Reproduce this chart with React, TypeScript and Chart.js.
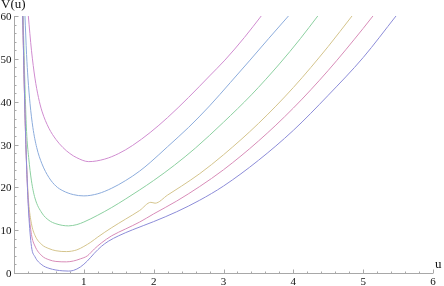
import React, { useEffect, useRef } from 'react';
import { Chart, registerables } from 'chart.js';
Chart.register(...registerables);

const xTickLabels = [1, 2, 3, 4, 5, 6];
const yTickLabels = [0, 10, 20, 30, 40, 50, 60];

const u1 = [0.125, 0.15, 0.17, 0.19, 0.21, 0.25, 0.3, 0.4, 0.5, 0.6, 0.7, 0.78, 0.85, 0.95, 1.05, 1.15, 1.25, 1.35, 1.5, 1.7, 2.0, 2.33, 2.66, 3.0, 3.5, 4.0, 4.5, 5.0, 5.47];
const v1 = [60, 42, 30, 21, 14, 6.2, 3.8, 1.9, 1.1, 0.7, 0.5, 0.45, 0.6, 1.4, 2.8, 4.6, 6.2, 7.4, 8.7, 10.1, 12.0, 14.3, 17.0, 20.3, 26.3, 33.3, 41.5, 50.3, 60];

const u2 = [0.125, 0.15, 0.17, 0.19, 0.21, 0.25, 0.3, 0.4, 0.5, 0.6, 0.75, 0.85, 0.95, 1.05, 1.15, 1.25, 1.4, 1.6, 1.8, 2.0, 2.33, 2.66, 3.0, 3.5, 4.0, 4.5, 5.0, 5.14];
const v2 = [60, 42, 30, 21, 15, 9.0, 6.3, 4.0, 3.1, 2.7, 2.6, 2.8, 3.3, 4.0, 5.6, 7.0, 8.7, 10.3, 11.9, 13.8, 16.8, 20.2, 24.1, 30.8, 38.5, 47.3, 57.1, 60];

const u3 = [0.125, 0.15, 0.17, 0.19, 0.21, 0.25, 0.3, 0.4, 0.5, 0.6, 0.75, 0.9, 1.0, 1.1, 1.2, 1.4, 1.6, 1.8, 1.96, 2.02, 2.2, 2.4, 2.66, 3.0, 3.5, 4.0, 4.5, 4.84];
const v3 = [60, 42, 30, 22, 16.5, 11.5, 8.8, 6.6, 5.7, 5.2, 5.0, 5.4, 6.2, 7.2, 8.4, 10.6, 12.6, 14.6, 16.5, 16.3, 18.2, 20.3, 23.2, 27.6, 34.9, 43.3, 52.9, 60];

const u4 = [0.13, 0.16, 0.18, 0.21, 0.25, 0.3, 0.4, 0.5, 0.6, 0.78, 0.9, 1.0, 1.2, 1.4, 1.6, 1.8, 2.0, 2.3, 2.6, 3.0, 3.4, 3.8, 4.1, 4.35];
const v4 = [60, 42, 33, 27, 21.5, 17.5, 14, 12.3, 11.5, 11.0, 11.3, 11.9, 13.5, 15.3, 17.3, 19.4, 21.6, 25.2, 29.2, 35.2, 41.6, 48.8, 54.7, 60];

const u5 = [0.157, 0.18, 0.2, 0.23, 0.27, 0.325, 0.4, 0.5, 0.6, 0.7, 0.85, 1.0, 1.2, 1.4, 1.6, 1.8, 1.95, 2.2, 2.5, 2.8, 3.1, 3.38, 3.65, 3.93];
const v5 = [60, 51, 45.5, 39.5, 34, 29.3, 25.5, 22.3, 20.3, 19.2, 18.3, 18.0, 18.5, 19.8, 21.6, 23.8, 25.8, 29.5, 34.0, 39.0, 44.5, 49.7, 54.8, 60];

const u6 = [0.205, 0.25, 0.3, 0.35, 0.4, 0.5, 0.6, 0.7, 0.8, 0.9, 1.07, 1.3, 1.5, 1.7, 1.95, 2.2, 2.5, 2.8, 3.02, 3.3, 3.54];
const v6 = [60, 52, 45.5, 41, 37.8, 33.8, 31.2, 29.3, 27.9, 26.9, 26.0, 26.6, 27.9, 29.8, 32.8, 36.3, 41.0, 46.0, 49.7, 55.0, 60];

const seriesU = [u1, u2, u3, u4, u5, u6];
const seriesV = [v1, v2, v3, v4, v5, v6];
const colors = ['#8c8cd8', '#d88cb8', '#d4c48c', '#8cd0a0', '#8cacdc', '#d08cd0'];

const FONT = '"Liberation Serif", serif';

const axesPlugin = {
  id: 'mmaAxes',
  beforeDatasetsDraw(chart: any) {
    const { ctx, scales } = chart;
    const xs = scales.x;
    const ys = scales.y;
    const y0 = Math.round(ys.getPixelForValue(0)) + 0.5;
    const x0 = Math.round(xs.getPixelForValue(0)) + 0.5;
    ctx.save();
    ctx.strokeStyle = '#a8a8a8';
    ctx.lineWidth = 1;
    ctx.beginPath();
    ctx.moveTo(xs.getPixelForValue(0), y0);
    ctx.lineTo(xs.getPixelForValue(6), y0);
    ctx.moveTo(x0, ys.getPixelForValue(0));
    ctx.lineTo(x0, ys.getPixelForValue(60));
    for (let i = 1; i <= 30; i++) {
      const px = Math.round(xs.getPixelForValue(i * 0.2)) + 0.5;
      const len = i % 5 === 0 ? 4 : 2;
      ctx.moveTo(px, y0);
      ctx.lineTo(px, y0 - len);
    }
    for (let i = 1; i <= 30; i++) {
      const py = Math.round(ys.getPixelForValue(i * 2)) + 0.5;
      const len = i % 5 === 0 ? 4 : 2;
      ctx.moveTo(x0, py);
      ctx.lineTo(x0 + len, py);
    }
    ctx.stroke();

    ctx.fillStyle = '#111';
    ctx.font = '11px ' + FONT;
    ctx.textBaseline = 'alphabetic';
    ctx.textAlign = 'center';
    xTickLabels.forEach((v) => {
      ctx.fillText(String(v), xs.getPixelForValue(v), y0 + 11);
    });
    ctx.textAlign = 'right';
    yTickLabels.forEach((v) => {
      ctx.fillText(String(v), x0 - 3, ys.getPixelForValue(v) + 4);
    });

    ctx.font = '13px ' + FONT;
    ctx.textAlign = 'left';
    ctx.fillText('V(u)', 1, 8);
    ctx.fillText('u', 435, 268);
    ctx.restore();
  },
};

export default function App() {
  const ref = useRef<HTMLCanvasElement>(null);
  useEffect(() => {
    document.body.style.margin = '0';
    const canvas = ref.current!;
    const chart = new Chart(canvas, {
      type: 'scatter',
      data: {
        datasets: seriesU.map((us, k) => ({
          data: us.map((u, i) => ({ x: u, y: seriesV[k][i] })),
          showLine: true,
          borderColor: colors[k],
          backgroundColor: colors[k],
          borderWidth: 1,
          pointRadius: 0,
          cubicInterpolationMode: 'monotone' as const,
        })),
      },
      plugins: [axesPlugin],
      options: {
        responsive: false,
        animation: false,
        devicePixelRatio: 1,
        layout: { padding: { top: 16, right: 11, left: 14, bottom: 13 } },
        plugins: { legend: { display: false }, tooltip: { enabled: false } },
        scales: {
          x: { type: 'linear', min: 0, max: 6, display: false },
          y: { type: 'linear', min: 0, max: 60, display: false },
        },
      },
    });
    return () => { chart.destroy(); };
  }, []);
  return <canvas ref={ref} width={444} height={286} style={{ display: 'block' }} />;
}
